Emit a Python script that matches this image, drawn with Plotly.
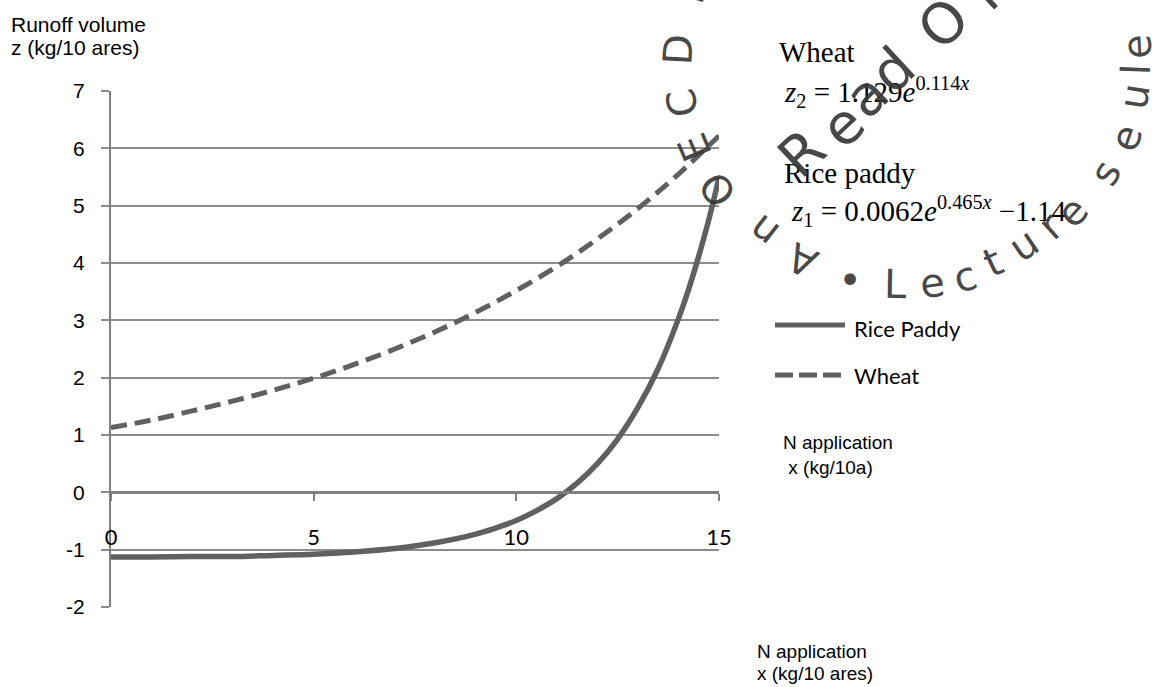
import plotly.graph_objects as go

# ---------------- data ----------------
wheat_x = [0, 1, 2, 3, 4, 5, 6, 7, 8, 9, 10, 11, 12, 13, 14, 15]
wheat_z = [1.13, 1.26, 1.42, 1.59, 1.78, 1.99, 2.23, 2.50, 2.80, 3.14, 3.52, 3.94, 4.42, 4.95, 5.55, 6.22]

rice_x = [0, 1, 2, 3, 4, 5, 6, 7, 8, 9, 10, 10.5, 11, 11.5, 12, 12.5, 13, 13.5, 14, 14.25, 14.5, 14.75, 15]
rice_z = [-1.13, -1.13, -1.12, -1.12, -1.10, -1.08, -1.04, -0.98, -0.88, -0.73, -0.49, -0.32, -0.11,
          0.16, 0.50, 0.93, 1.48, 2.16, 3.03, 3.54, 4.12, 4.76, 5.49]

y_ticks = [-2, -1, 0, 1, 2, 3, 4, 5, 6, 7]
y_ticktext = ["-2", "-1", "0", "1", "2", "3", "4", "5", "6", "7"]
x_ticks = [0, 5, 10, 15]
x_ticktext = ["0", "5", "10", "15"]

# ---------------- layout geometry ----------------
W, H = 1152, 687
ML, MR, MT, MB = 111, 433, 91, 80
PW, PH = W - ML - MR, H - MT - MB


def PX(x):
    return (x - ML) / PW


def PY(y):
    return (H - MB - y) / PH


LINE_COL = "#606060"
GRID_COL = "#8c8c8c"
AX_COL = "#7f7f7f"
SANS = "Liberation Sans, Arial, sans-serif"
CAL = "Lato, Noto Sans, sans-serif"
SERIF = "Liberation Serif, Times New Roman, serif"
WM = "DejaVu Sans, sans-serif"

fig = go.Figure()
fig.add_trace(go.Scatter(x=rice_x, y=rice_z, mode="lines", name="Rice Paddy",
                         line=dict(color=LINE_COL, width=5.5, shape="spline", smoothing=1.0)))
fig.add_trace(go.Scatter(x=wheat_x, y=wheat_z, mode="lines", name="Wheat",
                         line=dict(color=LINE_COL, width=5, dash="16px,8px", shape="spline", smoothing=1.0)))

ann = []


def text(s, x, y, size, font=SANS, color="black", xanchor="left", angle=0):
    ann.append(dict(text=s, x=PX(x), y=PY(y), xref="paper", yref="paper", showarrow=False,
                    xanchor=xanchor, yanchor="middle", textangle=angle,
                    font=dict(family=font, size=size, color=color)))


# axis titles / notes
text("Runoff volume", 9, 24, 21)
text("z (kg/10 ares)", 9, 47, 21)
text("N application", 781, 442, 19)
text(" x (kg/10a)", 781, 467, 19)
text("N application", 755, 651, 19)
text("x (kg/10 ares)", 755, 673, 19)

# equations
text("Wheat", 777, 52, 29, SERIF)
text("<i>z</i><sub>2</sub> = 1.129<i>e</i><sup>0.114<i>x</i></sup>", 782, 92, 29, SERIF)
text("Rice paddy", 782, 173, 29, SERIF)
text("<i>z</i><sub>1</sub> = 0.0062<i>e</i><sup>0.465<i>x</i></sup> \u22121.14", 789, 211, 29, SERIF)

# custom legend
shapes = [
    dict(type="line", xref="paper", yref="paper", x0=PX(775), x1=PX(845), y0=PY(325), y1=PY(325),
         line=dict(color=LINE_COL, width=5)),
    dict(type="line", xref="paper", yref="paper", x0=PX(775), x1=PX(845), y0=PY(375), y1=PY(375),
         line=dict(color=LINE_COL, width=5, dash="18px,6px")),
]
text("Rice Paddy", 852, 328, 22, CAL)
text("Wheat", 852, 375, 22, CAL)

# watermark letters (decorative stamp)
WCOL = "rgba(55,55,55,0.92)"
wm_letters = [
    ("A", 802, 260, -154), ("n", 764, 232, -142), ("O", 718, 190, -126), ("E", 695, 148, -113),
    ("C", 682, 103, -101), ("D", 678, 50, -87), ("I", 690, -4, -74),
    ("\u2022", 850, 280, 13), ("L", 895, 284, 1), ("e", 932, 283, -8), ("c", 965, 277, -17),
    ("t", 993, 262, -25), ("u", 1023, 245, -34), ("r", 1050, 226, -42), ("e", 1072, 212, -48),
    ("s", 1105, 173, -61), ("e", 1126, 138, -71), ("u", 1134, 97, -81), ("l", 1136, 70, -88),
    ("e", 1137, 47, -93),
]
for ch, x, y, a in wm_letters:
    ann.append(dict(text=ch, x=PX(x), y=PY(y), xref="paper", yref="paper", showarrow=False,
                    xanchor="center", yanchor="middle", textangle=a,
                    font=dict(family=WM, size=40, color=WCOL)))
ro_letters = [("R", 801, 153), ("e", 842, 125), ("a", 866, 95), ("d", 893, 70), ("O", 943, 23), ("n", 990, -14)]
for ch, x, y in ro_letters:
    ann.append(dict(text=ch, x=PX(x), y=PY(y), xref="paper", yref="paper", showarrow=False,
                    xanchor="center", yanchor="middle", textangle=-43,
                    font=dict(family=WM, size=56, color=WCOL)))

fig.update_layout(
    width=W, height=H, autosize=False,
    margin=dict(l=ML, r=MR, t=MT, b=MB),
    paper_bgcolor="white", plot_bgcolor="white",
    showlegend=False,
    annotations=ann, shapes=shapes,
    xaxis=dict(range=[0, 15], anchor="free", position=2 / 9, showgrid=False, zeroline=False,
               showline=True, linecolor=AX_COL, linewidth=2.5,
               ticks="outside", ticklen=7, tickwidth=1.5, tickcolor=AX_COL,
               tickvals=x_ticks, ticktext=x_ticktext, ticklabelstandoff=18,
               tickfont=dict(family=CAL, size=22, color="black")),
    yaxis=dict(range=[-2, 7], showgrid=True, gridcolor=GRID_COL, gridwidth=1.5, zeroline=False,
               showline=True, linecolor=AX_COL, linewidth=2,
               ticks="outside", ticklen=8, tickwidth=1.5, tickcolor=GRID_COL,
               tickvals=y_ticks, ticktext=y_ticktext, ticklabelstandoff=12,
               tickfont=dict(family=SANS, size=21, color="black")),
)

fig.write_html("out.html")
